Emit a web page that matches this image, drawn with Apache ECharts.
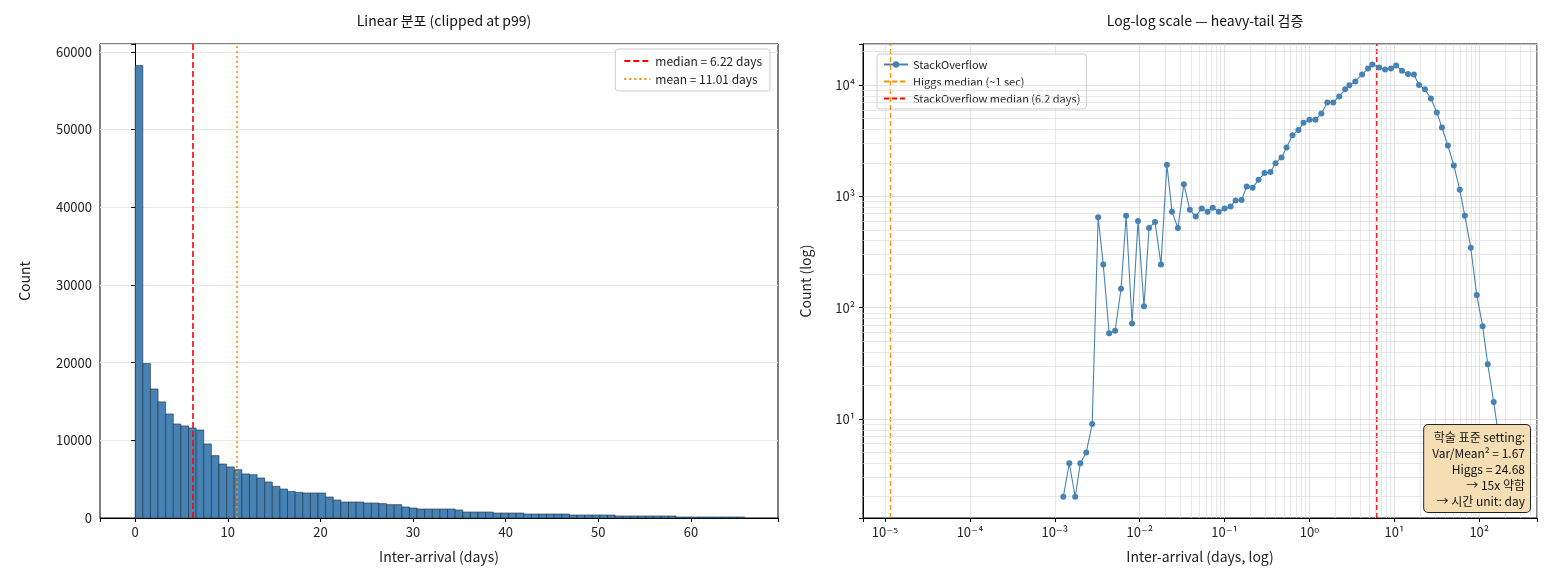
<!DOCTYPE html>
<html>
<head>
<meta charset="utf-8">
<script src="https://cdn.jsdelivr.net/npm/echarts@6/dist/echarts.min.js"></script>
<style>
  html, body { margin: 0; padding: 0; background: #fff; }
  #chart { width: 1548px; height: 588px; }
</style>
</head>
<body>
<div id="chart"></div>
<script>
// left: histogram of inter-arrival days (80 bins, clipped at p99)
const binWidth = 0.8225
const histCounts = [
  58240, 19870, 16610, 14940, 13390, 12100, 11850, 11590, 11330, 9530,
  8030, 6950, 6570, 6220, 5670, 5580, 5150, 4640, 4080, 3730,
  3430, 3300, 3220, 3220, 3220, 2700, 2320, 2060, 2060, 2060,
  1930, 1930, 1850, 1720, 1720, 1420, 1290, 1160, 1160, 1160,
  1160, 1160, 1030, 770, 770, 770, 770, 640, 640, 640,
  640, 515, 515, 515, 515, 515, 515, 390, 390, 390,
  390, 390, 390, 260, 260, 260, 260, 260, 260, 260,
  260, 130, 130, 130, 130, 130, 130, 130, 130, 130
]
const medianDays = 6.22
const meanDays = 11.01

// right: log-binned counts
const logX = [
  -2.90, -2.83, -2.76, -2.70, -2.63, -2.56, -2.49, -2.43, -2.36, -2.29,
  -2.22, -2.16, -2.09, -2.02, -1.95, -1.89, -1.82, -1.75, -1.68, -1.62,
  -1.55, -1.48, -1.41, -1.34, -1.27, -1.20, -1.14, -1.07, -1.00, -0.93,
  -0.87, -0.80, -0.74, -0.67, -0.60, -0.53, -0.46, -0.40, -0.33, -0.27,
  -0.20, -0.13, -0.07, 0.00, 0.07, 0.14, 0.21, 0.28, 0.35, 0.42,
  0.47, 0.54, 0.62, 0.69, 0.74, 0.82, 0.89, 0.96, 1.02, 1.09,
  1.16, 1.23, 1.29, 1.36, 1.43, 1.50, 1.56, 1.63, 1.70, 1.77,
  1.83, 1.90, 1.97, 2.04, 2.10, 2.17, 2.24
]
const soCounts = [
  2, 4, 2, 4, 5, 9, 650, 245, 59, 62,
  148, 670, 72, 600, 103, 520, 590, 245, 1930, 730,
  520, 1290, 760, 660, 780, 730, 790, 730, 780, 810,
  920, 930, 1230, 1200, 1410, 1620, 1660, 1990, 2240, 2760,
  3540, 3960, 4600, 4880, 4880, 5570, 6990, 6990, 7910, 9170,
  9990, 10800, 12500, 14100, 15300, 14400, 13800, 14100, 15000, 13500,
  12600, 12500, 10050, 9170, 7600, 5690, 4170, 2870, 1900, 1150,
  670, 345, 130, 68, 31, 14.2, 6
]
const higgsMedian = 1 / 86400
const soMedian = 6.2

const FONT = '"Noto Sans CJK KR", "DejaVu Sans", sans-serif'
const xMinR = Math.pow(10, -5.26), xMaxR = Math.pow(10, 2.68)
const yMinR = Math.pow(10, 0.11), yMaxR = Math.pow(10, 4.37)

const sup = {'-': '⁻', '0': '⁰', '1': '¹', '2': '²', '3': '³', '4': '⁴', '5': '⁵', '6': '⁶', '7': '⁷', '8': '⁸', '9': '⁹'}
function powLabel(v) {
  const e = Math.log10(v)
  if (Math.abs(e - Math.round(e)) > 1e-6) return ''
  return '10' + String(Math.round(e)).split('').map(c => sup[c]).join('')
}

// minor grid lines for the log panel
function minorVals(lo, hi) {
  const out = []
  for (let k = -7; k <= 5; k++) {
    for (let m = 1; m <= 9; m++) {
      const v = m * Math.pow(10, k)
      if (v > lo && v < hi) out.push(v)
    }
  }
  return out
}
const gridLine = { color: '#dcdcdc', width: 0.7, type: 'solid' }
const minorMarks = minorVals(xMinR, xMaxR).map(v => ({ xAxis: v }))
  .concat(minorVals(yMinR, yMaxR).map(v => ({ yAxis: v })))

const histData = histCounts.map((c, i) => [i * binWidth, (i + 1) * binWidth, c])
const soData = logX.map((lx, i) => [Math.pow(10, lx), soCounts[i]])
const vline = x => [[x, yMinR], [x, yMaxR]]

const chart = echarts.init(document.getElementById('chart'))
const axisCommon = {
  axisLine: { lineStyle: { color: '#000' } },
  axisTick: { lineStyle: { color: '#000' }, length: 4 },
  axisLabel: { color: '#222', fontSize: 13, fontFamily: FONT },
  nameTextStyle: { color: '#222', fontSize: 14, fontFamily: FONT }
}
const noSym = { opacity: 0 }

const option = {
  animation: false,
  textStyle: { fontFamily: FONT },
  title: [
    { text: 'Linear 분포 (clipped at p99)', left: 439, top: 9, textAlign: 'center',
      textStyle: { fontSize: 14, fontWeight: 'normal', color: '#111', fontFamily: FONT } },
    { text: 'Log-log scale — heavy-tail 검증', left: 1200, top: 9, textAlign: 'center',
      textStyle: { fontSize: 14, fontWeight: 'normal', color: '#111', fontFamily: FONT } }
  ],
  grid: [
    { left: 100, right: 770, top: 44, bottom: 70, show: true, borderColor: '#000', borderWidth: 1 },
    { left: 863, right: 11, top: 44, bottom: 70, show: true, borderColor: '#000', borderWidth: 1 }
  ],
  legend: [
    { data: [{ name: 'median = 6.22 days', itemStyle: noSym }, { name: 'mean = 11.01 days', itemStyle: noSym }],
      orient: 'vertical', right: 778, top: 49,
      itemWidth: 26, itemHeight: 10, itemGap: 6, padding: [6, 8, 6, 8],
      backgroundColor: '#fff', borderColor: '#ccc', borderWidth: 1, borderRadius: 3,
      textStyle: { fontSize: 12, color: '#222', fontFamily: FONT } },
    { data: ['StackOverflow', { name: 'Higgs median (~1 sec)', itemStyle: noSym },
        { name: 'StackOverflow median (6.2 days)', itemStyle: noSym }],
      orient: 'vertical', left: 877, top: 54,
      itemWidth: 24, itemHeight: 8, itemGap: 6, padding: [5, 6, 5, 6],
      backgroundColor: '#fff', borderColor: '#ccc', borderWidth: 1, borderRadius: 3,
      textStyle: { fontSize: 11, color: '#222', fontFamily: FONT } }
  ],
  xAxis: [
    Object.assign({}, axisCommon, {
      type: 'value', gridIndex: 0, min: -3.8, max: 69.4,
      name: 'Inter-arrival (days)', nameLocation: 'middle', nameGap: 32,
      splitLine: { show: false },
      axisLabel: Object.assign({}, axisCommon.axisLabel, {
        formatter: v => (Math.abs(v % 10) < 1e-6 ? String(v) : '') })
    }),
    Object.assign({}, axisCommon, {
      type: 'log', gridIndex: 1, min: xMinR, max: xMaxR, logBase: 10,
      name: 'Inter-arrival (days, log)', nameLocation: 'middle', nameGap: 32,
      splitLine: { show: true, lineStyle: gridLine },
      axisLabel: Object.assign({}, axisCommon.axisLabel, { formatter: powLabel })
    })
  ],
  yAxis: [
    Object.assign({}, axisCommon, {
      type: 'value', gridIndex: 0, min: 0, max: 61000, interval: 10000,
      name: 'Count', nameLocation: 'middle', nameGap: 68,
      splitLine: { show: true, lineStyle: { color: '#e6e6e6' } },
      axisLabel: Object.assign({}, axisCommon.axisLabel, {
        formatter: v => (v % 10000 === 0 ? String(v) : '') })
    }),
    Object.assign({}, axisCommon, {
      type: 'log', gridIndex: 1, min: yMinR, max: yMaxR, logBase: 10,
      name: 'Count (log)', nameLocation: 'middle', nameGap: 50,
      splitLine: { show: true, lineStyle: gridLine },
      axisLabel: Object.assign({}, axisCommon.axisLabel, { formatter: powLabel })
    })
  ],
  series: [
    {
      type: 'custom', xAxisIndex: 0, yAxisIndex: 0, data: histData,
      encode: { x: [0, 1], y: 2 },
      renderItem: (params, api) => {
        const p0 = api.coord([api.value(0), api.value(2)])
        const p1 = api.coord([api.value(1), 0])
        return {
          type: 'rect',
          shape: { x: p0[0], y: p0[1], width: p1[0] - p0[0], height: p1[1] - p0[1] },
          style: { fill: '#4682b4', stroke: '#1f2f3f', lineWidth: 0.6 }
        }
      }
    },
    {
      name: 'median = 6.22 days', type: 'line', xAxisIndex: 0, yAxisIndex: 0, data: [],
      symbol: 'none', color: '#ff0000', lineStyle: { type: [6, 3], width: 1.6 },
      markLine: { silent: true, symbol: 'none', label: { show: false },
        lineStyle: { color: '#ff0000', type: [6, 3], width: 1.6 }, data: [{ xAxis: medianDays }] }
    },
    {
      name: 'mean = 11.01 days', type: 'line', xAxisIndex: 0, yAxisIndex: 0, data: [],
      symbol: 'none', color: '#ff8c00', lineStyle: { type: [2, 3], width: 1.6 },
      markLine: { silent: true, symbol: 'none', label: { show: false },
        lineStyle: { color: '#ff8c00', type: [2, 3], width: 1.6 }, data: [{ xAxis: meanDays }] }
    },
    {
      type: 'line', xAxisIndex: 1, yAxisIndex: 1, data: [], silent: true,
      markLine: { silent: true, symbol: 'none', label: { show: false },
        lineStyle: gridLine, data: minorMarks }
    },
    {
      name: 'StackOverflow', type: 'line', xAxisIndex: 1, yAxisIndex: 1, data: soData,
      symbol: 'circle', symbolSize: 6, color: '#4682b4', z: 5,
      lineStyle: { width: 1.1 }, itemStyle: { color: '#4682b4' }
    },
    {
      name: 'Higgs median (~1 sec)', type: 'line', xAxisIndex: 1, yAxisIndex: 1,
      data: vline(higgsMedian), showSymbol: false, symbol: 'none', color: '#ff8c00', z: 4,
      lineStyle: { type: [5, 3], width: 1.3, color: '#ff8c00' }
    },
    {
      name: 'StackOverflow median (6.2 days)', type: 'line', xAxisIndex: 1, yAxisIndex: 1,
      data: vline(soMedian), showSymbol: false, symbol: 'none', color: '#ff0000', z: 4,
      lineStyle: { type: [5, 3], width: 1.3, color: '#ff0000' }
    }
  ],
  graphic: [
    {
      type: 'text', x: 1530, y: 425, z: 100,
      style: {
        text: '학술 표준 setting:\nVar/Mean² = 1.67\nHiggs = 24.68\n→ 15x 약함\n→ 시간 unit: day',
        align: 'right', verticalAlign: 'top', fontSize: 12, lineHeight: 16, fill: '#111', fontFamily: FONT,
        backgroundColor: '#f5deb3', borderColor: '#222', borderWidth: 1, borderRadius: 4,
        padding: [4, 5, 3, 8]
      }
    }
  ]
}
chart.setOption(option)
</script>
</body>
</html>
